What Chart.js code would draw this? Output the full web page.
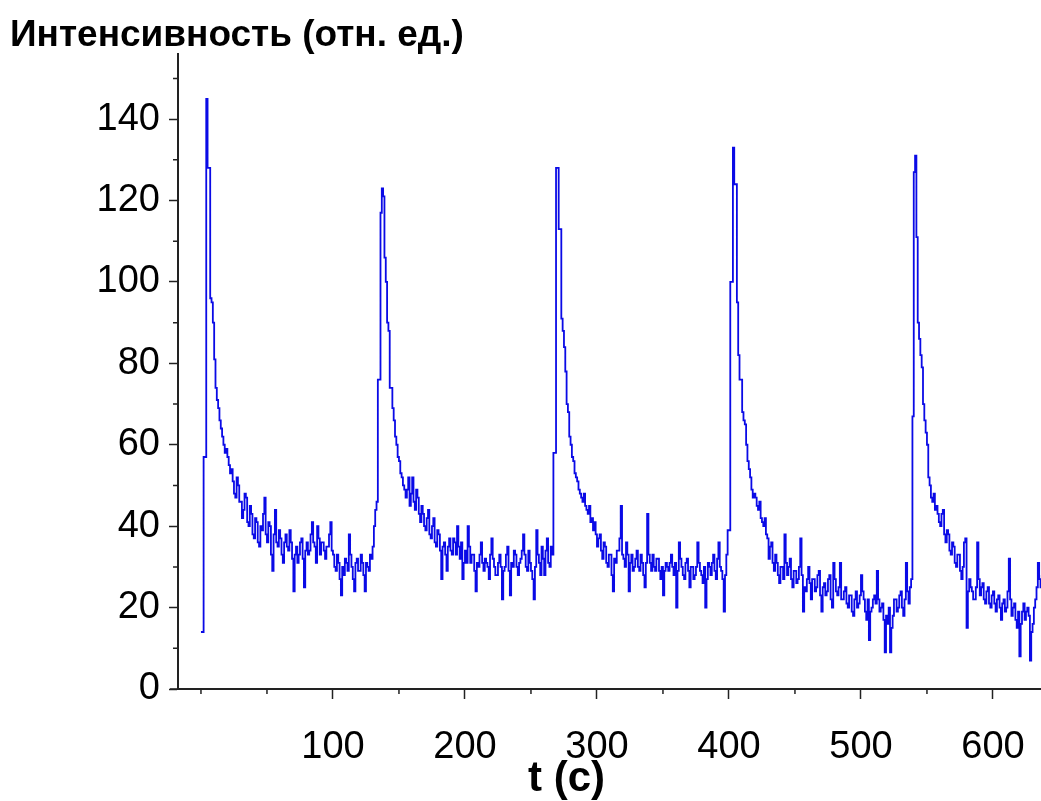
<!DOCTYPE html>
<html>
<head>
<meta charset="utf-8">
<title>Интенсивность (отн. ед.)</title>
<script src="https://cdn.jsdelivr.net/npm/chart.js@4.4.1/dist/chart.umd.min.js"></script>
<style>
  html, body { margin: 0; padding: 0; background: #fff; }
  #wrap { width: 1041px; height: 801px; }
</style>
</head>
<body>
<div id="wrap"><canvas id="chart" width="1041" height="801"></canvas></div>
<script>
// one reading every STEP seconds, starting at t = 0
const STEP = 1;

// intensity (rel. units), 20 s per row
const intensity = [
  14, 14, 57, 57, 145, 128, 128, 96, 95, 90, 81, 74, 71, 69, 66, 64, 62, 60, 58, 59,
  57, 55, 53, 54, 51, 48, 47, 52, 50, 46, 46, 42, 44, 48, 47, 41, 40, 45, 43, 38,
  37, 42, 41, 36, 35, 40, 39, 43, 47, 38, 36, 41, 40, 33, 29, 38, 44, 36, 35, 39,
  37, 33, 31, 36, 38, 35, 34, 39, 36, 32, 24, 33, 35, 31, 33, 36, 37, 32, 25, 34,
  36, 33, 34, 38, 41, 36, 35, 31, 40, 37, 33, 36, 36, 34, 32, 35, 35, 38, 41, 34,
  33, 30, 29, 33, 31, 27, 23, 30, 28, 32, 31, 29, 38, 33, 30, 27, 24, 31, 32, 29,
  29, 33, 31, 28, 24, 31, 30, 29, 33, 32, 35, 40, 44, 46, 76, 76, 117, 123, 121, 106,
  100, 90, 88, 74, 74, 69, 66, 62, 60, 57, 56, 53, 52, 50, 49, 47, 49, 52, 45, 48,
  52, 46, 44, 49, 47, 43, 41, 45, 43, 40, 39, 42, 44, 38, 37, 40, 42, 36, 35, 39,
  38, 34, 27, 35, 36, 33, 29, 35, 37, 34, 33, 37, 36, 33, 40, 35, 32, 36, 27, 31,
  34, 31, 40, 35, 31, 33, 33, 29, 24, 31, 30, 33, 36, 31, 29, 32, 31, 30, 27, 33,
  37, 32, 30, 28, 28, 31, 33, 30, 22, 29, 30, 33, 35, 29, 23, 31, 30, 34, 33, 30,
  28, 31, 32, 34, 38, 33, 30, 29, 34, 31, 29, 27, 22, 30, 39, 33, 31, 28, 35, 32,
  28, 34, 37, 31, 30, 35, 33, 58, 58, 128, 128, 113, 113, 91, 88, 84, 78, 70, 68, 62,
  60, 57, 56, 53, 52, 51, 49, 48, 47, 46, 48, 45, 44, 43, 45, 41, 42, 39, 41, 38,
  35, 37, 38, 34, 32, 36, 35, 31, 30, 33, 33, 28, 24, 32, 31, 34, 34, 37, 45, 33,
  32, 30, 36, 33, 24, 31, 33, 29, 30, 32, 34, 30, 29, 33, 31, 28, 25, 31, 43, 33,
  31, 29, 33, 30, 29, 32, 32, 29, 27, 30, 23, 29, 31, 30, 29, 31, 33, 30, 28, 31,
  20, 29, 36, 32, 30, 28, 27, 31, 32, 29, 25, 30, 30, 27, 28, 30, 36, 31, 29, 28,
  26, 30, 20, 27, 31, 30, 28, 31, 33, 29, 27, 32, 36, 30, 29, 27, 19, 28, 33, 39,
  39, 100, 100, 133, 124, 124, 95, 82, 76, 76, 68, 66, 65, 60, 56, 54, 52, 49, 47, 48,
  47, 45, 44, 46, 42, 41, 40, 42, 38, 37, 32, 35, 36, 31, 29, 33, 31, 28, 26, 30,
  30, 27, 38, 31, 28, 30, 32, 27, 25, 29, 29, 26, 27, 30, 37, 28, 19, 25, 24, 27,
  30, 26, 22, 27, 27, 24, 25, 28, 29, 23, 19, 25, 26, 23, 24, 27, 28, 22, 20, 31,
  27, 24, 23, 25, 31, 22, 22, 24, 25, 21, 20, 23, 23, 19, 18, 22, 24, 20, 21, 23,
  28, 24, 22, 19, 17, 22, 12, 19, 20, 22, 23, 21, 29, 22, 19, 20, 21, 17, 9, 18,
  16, 20, 9, 15, 18, 22, 22, 19, 20, 23, 24, 20, 18, 22, 31, 24, 21, 25, 27, 67,
  127, 131, 111, 90, 86, 82, 79, 70, 66, 63, 60, 52, 50, 47, 46, 48, 44, 45, 43, 41,
  40, 43, 44, 38, 36, 39, 38, 34, 33, 36, 35, 31, 30, 33, 33, 29, 27, 30, 36, 37,
  15, 24, 27, 25, 24, 22, 22, 25, 36, 27, 23, 25, 26, 22, 21, 24, 25, 21, 20, 23,
  24, 21, 19, 22, 23, 20, 17, 21, 22, 19, 20, 24, 32, 22, 18, 20, 21, 17, 15, 19,
  8, 16, 19, 21, 17, 19, 20, 18, 7, 14, 16, 20, 22, 25, 31, 27, 25, 28, 28, 24,
  24
];

const xTicks = [100, 200, 300, 400, 500, 600];
const xMinorTicks = [0, 50, 150, 250, 350, 450, 550];
const yTicks = [0, 20, 40, 60, 80, 100, 120, 140];
const yMinorTicks = [10, 30, 50, 70, 90, 110, 130, 150];

const yTitle = 'Интенсивность (отн. ед.)';
const xTitle = 't (с)';

const FONT = '"Liberation Sans", Arial, sans-serif';

// short minor tick marks and the x axis caption
const axisExtras = {
  id: 'axisExtras',
  afterDraw(chart) {
    const ctx = chart.ctx;
    const xs = chart.scales.x;
    const ys = chart.scales.y;
    ctx.save();
    ctx.strokeStyle = '#222';
    ctx.lineWidth = 1.5;
    ctx.beginPath();
    yMinorTicks.forEach(v => {
      const py = ys.getPixelForValue(v);
      ctx.moveTo(ys.right, py);
      ctx.lineTo(ys.right - 5, py);
    });
    xMinorTicks.forEach(v => {
      const px = xs.getPixelForValue(v);
      ctx.moveTo(px, xs.top);
      ctx.lineTo(px, xs.top + 5);
    });
    // x axis line runs a little past the y axis, as in the original
    ctx.moveTo(xs.left - 8, xs.top);
    ctx.lineTo(xs.left, xs.top);
    ctx.stroke();

    ctx.fillStyle = '#000';
    ctx.font = 'bold 42px ' + FONT;
    ctx.textAlign = 'center';
    ctx.textBaseline = 'middle';
    ctx.fillText(xTitle, xs.getPixelForValue(277), 779);
    ctx.restore();
  }
};

const ctx = document.getElementById('chart').getContext('2d');
new Chart(ctx, {
  type: 'line',
  data: {
    datasets: [{
      data: intensity.map((v, i) => ({ x: i * STEP, y: v })),
      borderColor: '#0a0ae6',
      borderWidth: 1.8,
      pointRadius: 0,
      stepped: true,
      fill: false
    }]
  },
  options: {
    responsive: false,
    animation: false,
    devicePixelRatio: 1,
    layout: { padding: { left: 10, top: 0, right: 0, bottom: 0 } },
    plugins: {
      legend: { display: false },
      tooltip: { enabled: false },
      title: {
        display: true,
        text: yTitle,
        align: 'start',
        color: '#000',
        font: { family: FONT, size: 37, weight: 'bold', lineHeight: 1 },
        padding: { top: 17, bottom: 0 }
      }
    },
    scales: {
      x: {
        type: 'linear',
        min: -17.4,
        max: 636.4,
        afterBuildTicks: s => { s.ticks = xTicks.map(v => ({ value: v })); },
        afterFit: s => { s.height = 112; s.paddingLeft = 0; s.paddingRight = 0; },
        grid: { drawOnChartArea: false, drawTicks: true, tickLength: 10, tickColor: '#222', tickWidth: 1.5 },
        border: { color: '#222', width: 2 },
        ticks: { color: '#000', font: { family: FONT, size: 38 }, padding: 26, maxRotation: 0, autoSkip: false }
      },
      y: {
        min: 0,
        max: 156,
        afterBuildTicks: s => { s.ticks = yTicks.map(v => ({ value: v })); },
        afterFit: s => { s.width = 168; },
        grid: { drawOnChartArea: false, drawTicks: true, tickLength: 9, tickColor: '#222', tickWidth: 1.5 },
        border: { color: '#222', width: 2 },
        ticks: { color: '#000', font: { family: FONT, size: 38 }, padding: 9, autoSkip: false }
      }
    }
  },
  plugins: [axisExtras]
});
</script>
</body>
</html>
